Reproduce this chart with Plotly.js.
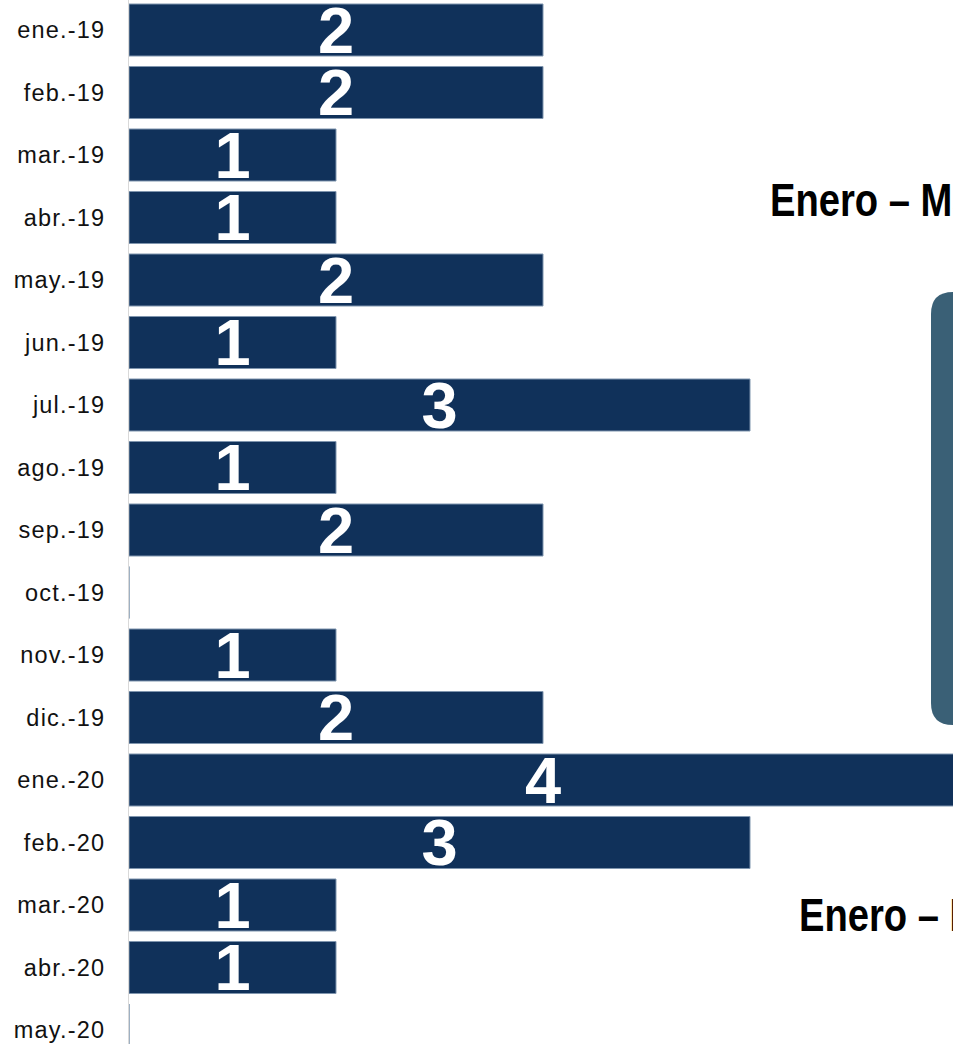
<!DOCTYPE html>
<html>
<head>
<meta charset="utf-8">
<script src="https://cdn.plot.ly/plotly-3.0.1.min.js"></script>
<style>
  html, body { margin: 0; padding: 0; background: #ffffff; overflow: hidden; width: 953px; height: 1044px; }
  #chart { width: 960px; height: 1044px; }
  .yaxislayer-above text { letter-spacing: 1.2px; }
  .annotation-text { transform-box: fill-box; transform-origin: 0% 50%; transform: scaleX(0.83); }
</style>
</head>
<body>
<div id="chart"></div>
<script>
// ---- data ----
const months = ["ene.-19", "feb.-19", "mar.-19", "abr.-19", "may.-19", "jun.-19",
                "jul.-19", "ago.-19", "sep.-19", "oct.-19", "nov.-19", "dic.-19",
                "ene.-20", "feb.-20", "mar.-20", "abr.-20", "may.-20"];
const counts = [2, 2, 1, 1, 2, 1, 3, 1, 2, 0, 1, 2, 4, 3, 1, 1, 0];
const periodLabels = ["Enero – Mayo 2019", "Enero – Mayo 2020"];

// ---- layout geometry (pixels) ----
const W = 960, H = 1044, ML = 129;
const plotW = W - ML;
const px2x = p => (p - ML) / plotW;     // pixel -> paper x
const px2y = p => 1 - p / H;            // pixel -> paper y

// rounded panel on the right (decoration)
function roundedPanel(l, t, r, b, rad) {
  const x0 = px2x(l), x1 = px2x(r), y0 = px2y(t), y1 = px2y(b);
  const rx = rad / plotW, ry = rad / H;
  return `M ${x0 + rx},${y0} L ${x1 - rx},${y0} Q ${x1},${y0} ${x1},${y0 - ry} ` +
         `L ${x1},${y1 + ry} Q ${x1},${y1} ${x1 - rx},${y1} ` +
         `L ${x0 + rx},${y1} Q ${x0},${y1} ${x0},${y1 + ry} ` +
         `L ${x0},${y0 - ry} Q ${x0},${y0} ${x0 + rx},${y0} Z`;
}

const trace = {
  type: "bar",
  orientation: "h",
  y: months,
  x: counts,
  text: counts.map(v => v > 0 ? String(v) : ""),
  textposition: "inside",
  insidetextanchor: "middle",
  textangle: 0,
  constraintext: "none",
  textfont: { family: "Liberation Sans, Arial, sans-serif", size: 65, color: "#ffffff", weight: "bold" },
  marker: { color: "#10315a", line: { color: "#7f95ae", width: 1 } },
  hoverinfo: "none",
  cliponaxis: false
};

const layout = {
  width: W,
  height: H,
  margin: { l: ML, r: 0, t: 0, b: 0, pad: 0 },
  paper_bgcolor: "#ffffff",
  plot_bgcolor: "#ffffff",
  showlegend: false,
  bargap: 0.168,
  xaxis: {
    range: [0, plotW / 207],
    visible: false,
    showgrid: false,
    zeroline: false,
    fixedrange: true
  },
  yaxis: {
    type: "category",
    range: [16.224, -0.48],
    showgrid: false,
    zeroline: false,
    showline: true,
    linecolor: "#d9d9d9",
    linewidth: 1,
    ticks: "",
    ticklabelstandoff: 18,
    tickfont: { family: "Liberation Sans, Arial, sans-serif", size: 23.5, color: "#111111" },
    fixedrange: true
  },
  shapes: [{
    type: "path",
    xref: "paper", yref: "paper",
    path: roundedPanel(931, 292, 1150, 725, 22),
    fillcolor: "#3a6076",
    line: { width: 0 },
    layer: "below"
  }],
  annotations: [
    {
      xref: "paper", yref: "paper",
      x: px2x(768), y: px2y(200),
      xanchor: "left", yanchor: "middle",
      text: periodLabels[0],
      showarrow: false,
      font: { family: "Liberation Sans, Arial, sans-serif", size: 46, color: "#000000", weight: "bold" }
    },
    {
      xref: "paper", yref: "paper",
      x: px2x(797), y: px2y(915.5),
      xanchor: "left", yanchor: "middle",
      text: periodLabels[1],
      showarrow: false,
      font: { family: "Liberation Sans, Arial, sans-serif", size: 46, color: "#000000", weight: "bold" }
    }
  ]
};

Plotly.newPlot("chart", [trace], layout, { displayModeBar: false, staticPlot: true });
</script>
</body>
</html>
